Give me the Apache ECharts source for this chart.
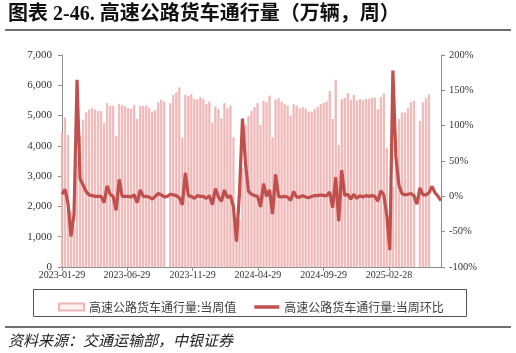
<!DOCTYPE html>
<html>
<head>
<meta charset="utf-8">
<script src="https://cdn.jsdelivr.net/npm/echarts@6/dist/echarts.min.js"></script>
<style>
    html, body { margin: 0; padding: 0; background: #fff; }
    #chart { width: 516px; height: 353px; }
</style>
</head>
<body>
<div id="chart"></div>
<script>
// 周度数据，从 2023-01-29 起每周一个点
const startDate = '2023-01-29';

// 高速公路货车通行量：当周值（万辆），null = 缺数
const volume2023 = [
    4450, 4940, 4360, 1850, 1320, 3500, 4350, 4860, 5100, 5190,
    5240, 5200, 5150, 5150, 4750, 5410, 5320, 5320, 4330, 5390,
    5340, 5300, 5240, 5230, 5350, 4890, 5320, 5320, 5330, 5260,
    5130, 5170, 5430, 5520, 5460, null, 5410, 5680, 5760, 5930,
    4270, 5680
];
const volume2024 = [
    5650, 5700, 5540, 5540, 5600, 5550, 5390, 5460,
    4770, 5300, 5210, 4910, 5410, 5240, 5330, 4280, 1540, 1550,
    3250, 4690, 4990, 5150, 5280, 5410, 4690, 5480, 5440, 5660,
    4280, 5520, 5570, 5460, 5390, 5320, 5000, 5370, 5320, 5240,
    5280, 5240, 5130, 5130
];
const volume2025 = [
    5210, 5280, 5370, 5420, 5460, 5810,
    4890, 6180, 4030, 5540, 5590, 5740, 5520, 5680, 5500, 5540,
    5500, 5550, 5550, 5590, 5590, 5210, 5620, 5730, 3920, 950,
    2650, 4150, 4880, 5100, 5100, 5240, 5440, 5490, null, 4820,
    5430, 5570, 5700, null, null, null, null
];

// 当周环比（%）
const change2023 = [
    3, 10, -10, -57, -25, 165, 25, 16, 7, 2,
    1, 0, 0, 0, -9, 15, 3, 0, -20, 24,
    0, 0, 0, -1, 2, -9, 9, 0, 0, -1,
    -4, 0, 4, 2, -1, 0, 3, 2, 1, -2,
    -12, 33
];
const change2024 = [
    1, 0, -3, 1, 0, 0, -3, 1,
    -12, 11, -1, -7, 9, -2, 1, -15, -64, 5,
    110, 47, 7, 3, 1, 0, -15, 18, 0, 9,
    -25, 31, 0, -1, 0, -1, -6, 7, -1, -1,
    1, -1, -2, 0
];
const change2025 = [
    1, 1, 2, 1, 1, 6,
    -16, 27, -35, 37, 1, 3, -4, 3, -3, 1,
    -1, 1, 0, 1, 0, -7, 8, 2, -28, -76,
    178, 56, 16, 4, 2, 3, 4, 1, -11, 12,
    2, 2, 5, 14, 5, 0, -6
];

// x 轴标签日期
const tickDates = ['2023-01-29', '2023-06-29', '2023-11-29', '2024-04-29', '2024-09-29', '2025-02-28'];

const barName = '高速公路货车通行量:当周值';
const lineName = '高速公路货车通行量:当周环比';

const volume = volume2023.concat(volume2024, volume2025);
const change = change2023.concat(change2024, change2025);

const DAY = 86400000;
function toTs(s) {
    const p = s.split('-').map(Number);
    return Date.UTC(p[0], p[1] - 1, p[2]);
}
function pad(n) {
    return n < 10 ? '0' + n : '' + n;
}
const t0 = toTs(startDate);
// x 用距离起始日的天数
const weekDays = volume.map((v, i) => 7 * i);
const tickDays = tickDates.map(s => Math.round((toTs(s) - t0) / DAY));
function dayLabel(v) {
    const d = new Date(t0 + v * DAY);
    return d.getUTCFullYear() + '-' + pad(d.getUTCMonth() + 1) + '-' + pad(d.getUTCDate());
}

const serif = '"Liberation Serif", "Times New Roman", serif';
const cjk = '"Noto Sans CJK SC", sans-serif';
const axisColor = '#8c8c8c';
const red = '#c0504d';

const myChart = echarts.init(document.getElementById('chart'));

const options = {
    animation: false,
    grid: { left: 62, right: 75, top: 55, bottom: 86 },
    legend: {
        left: 53,
        top: 296,
        itemWidth: 25,
        itemHeight: 7,
        itemGap: 18,
        textStyle: { fontFamily: cjk, fontSize: 12, color: '#404040' },
        data: [
            { name: barName, icon: 'rect', itemStyle: { color: '#fdf3f3', borderColor: '#f0b4b4', borderWidth: 2 } },
            // 只要一条粗线，不要中间的圆点
            { name: lineName, icon: 'path://M0 0H25V3.5H0Z', itemStyle: { color: red } }
        ]
    },
    xAxis: {
        type: 'value',
        min: 0,
        max: weekDays[weekDays.length - 1],
        axisLine: { onZero: false, lineStyle: { color: axisColor } },
        axisTick: { show: true, length: 4, customValues: tickDays, lineStyle: { color: axisColor } },
        splitLine: { show: false },
        axisLabel: {
            customValues: tickDays,
            margin: 3,
            fontFamily: serif,
            fontSize: 10,
            color: '#333',
            formatter: dayLabel
        }
    },
    yAxis: [
        {
            type: 'value',
            min: 0,
            max: 7000,
            interval: 1000,
            axisLine: { show: true, lineStyle: { color: axisColor } },
            axisTick: { show: true, length: 4, lineStyle: { color: axisColor } },
            splitLine: { show: false },
            axisLabel: {
                margin: 10,
                fontFamily: serif,
                fontSize: 11,
                color: '#333',
                formatter: v => v.toLocaleString('en-US')
            }
        },
        {
            type: 'value',
            min: -100,
            max: 200,
            interval: 50,
            axisLine: { show: true, lineStyle: { color: axisColor } },
            axisTick: { show: true, length: 4, lineStyle: { color: axisColor } },
            splitLine: { show: false },
            axisLabel: {
                margin: 8,
                fontFamily: serif,
                fontSize: 10.5,
                color: '#333',
                formatter: v => v + '%'
            }
        }
    ],
    series: [
        {
            name: barName,
            type: 'bar',
            barWidth: 2,
            itemStyle: { color: '#f3c3c3', borderColor: '#eaa3a3', borderWidth: 0.6 },
            data: weekDays.map((d, i) => [d, volume[i]])
        },
        {
            name: lineName,
            type: 'line',
            yAxisIndex: 1,
            symbol: 'none',
            lineStyle: { color: red, width: 3.2 },
            itemStyle: { color: red },
            z: 3,
            data: weekDays.map((d, i) => [d, change[i]])
        }
    ],
    graphic: [
        {
            type: 'text', left: 8, top: 5,
            style: { text: '图表 2-46. 高速公路货车通行量（万辆，周）', font: 'bold 20px "Liberation Serif", "Noto Sans CJK SC"', fill: '#111' }
        },
        { type: 'line', shape: { x1: 5, y1: 30, x2: 511, y2: 30 }, style: { stroke: '#6e6e6e', lineWidth: 2 } },
        { type: 'rect', shape: { x: 33.5, y: 289.5, width: 433, height: 27 }, style: { fill: 'none', stroke: '#555', lineWidth: 1 } },
        { type: 'line', shape: { x1: 5, y1: 327, x2: 511, y2: 327 }, style: { stroke: '#6e6e6e', lineWidth: 2 } },
        {
            type: 'text', left: 8, top: 333,
            style: { text: '资料来源：交通运输部，中银证券', font: 'italic 15px "Noto Sans CJK SC"', fill: '#222' }
        }
    ]
};

myChart.setOption(options);
</script>
</body>
</html>
